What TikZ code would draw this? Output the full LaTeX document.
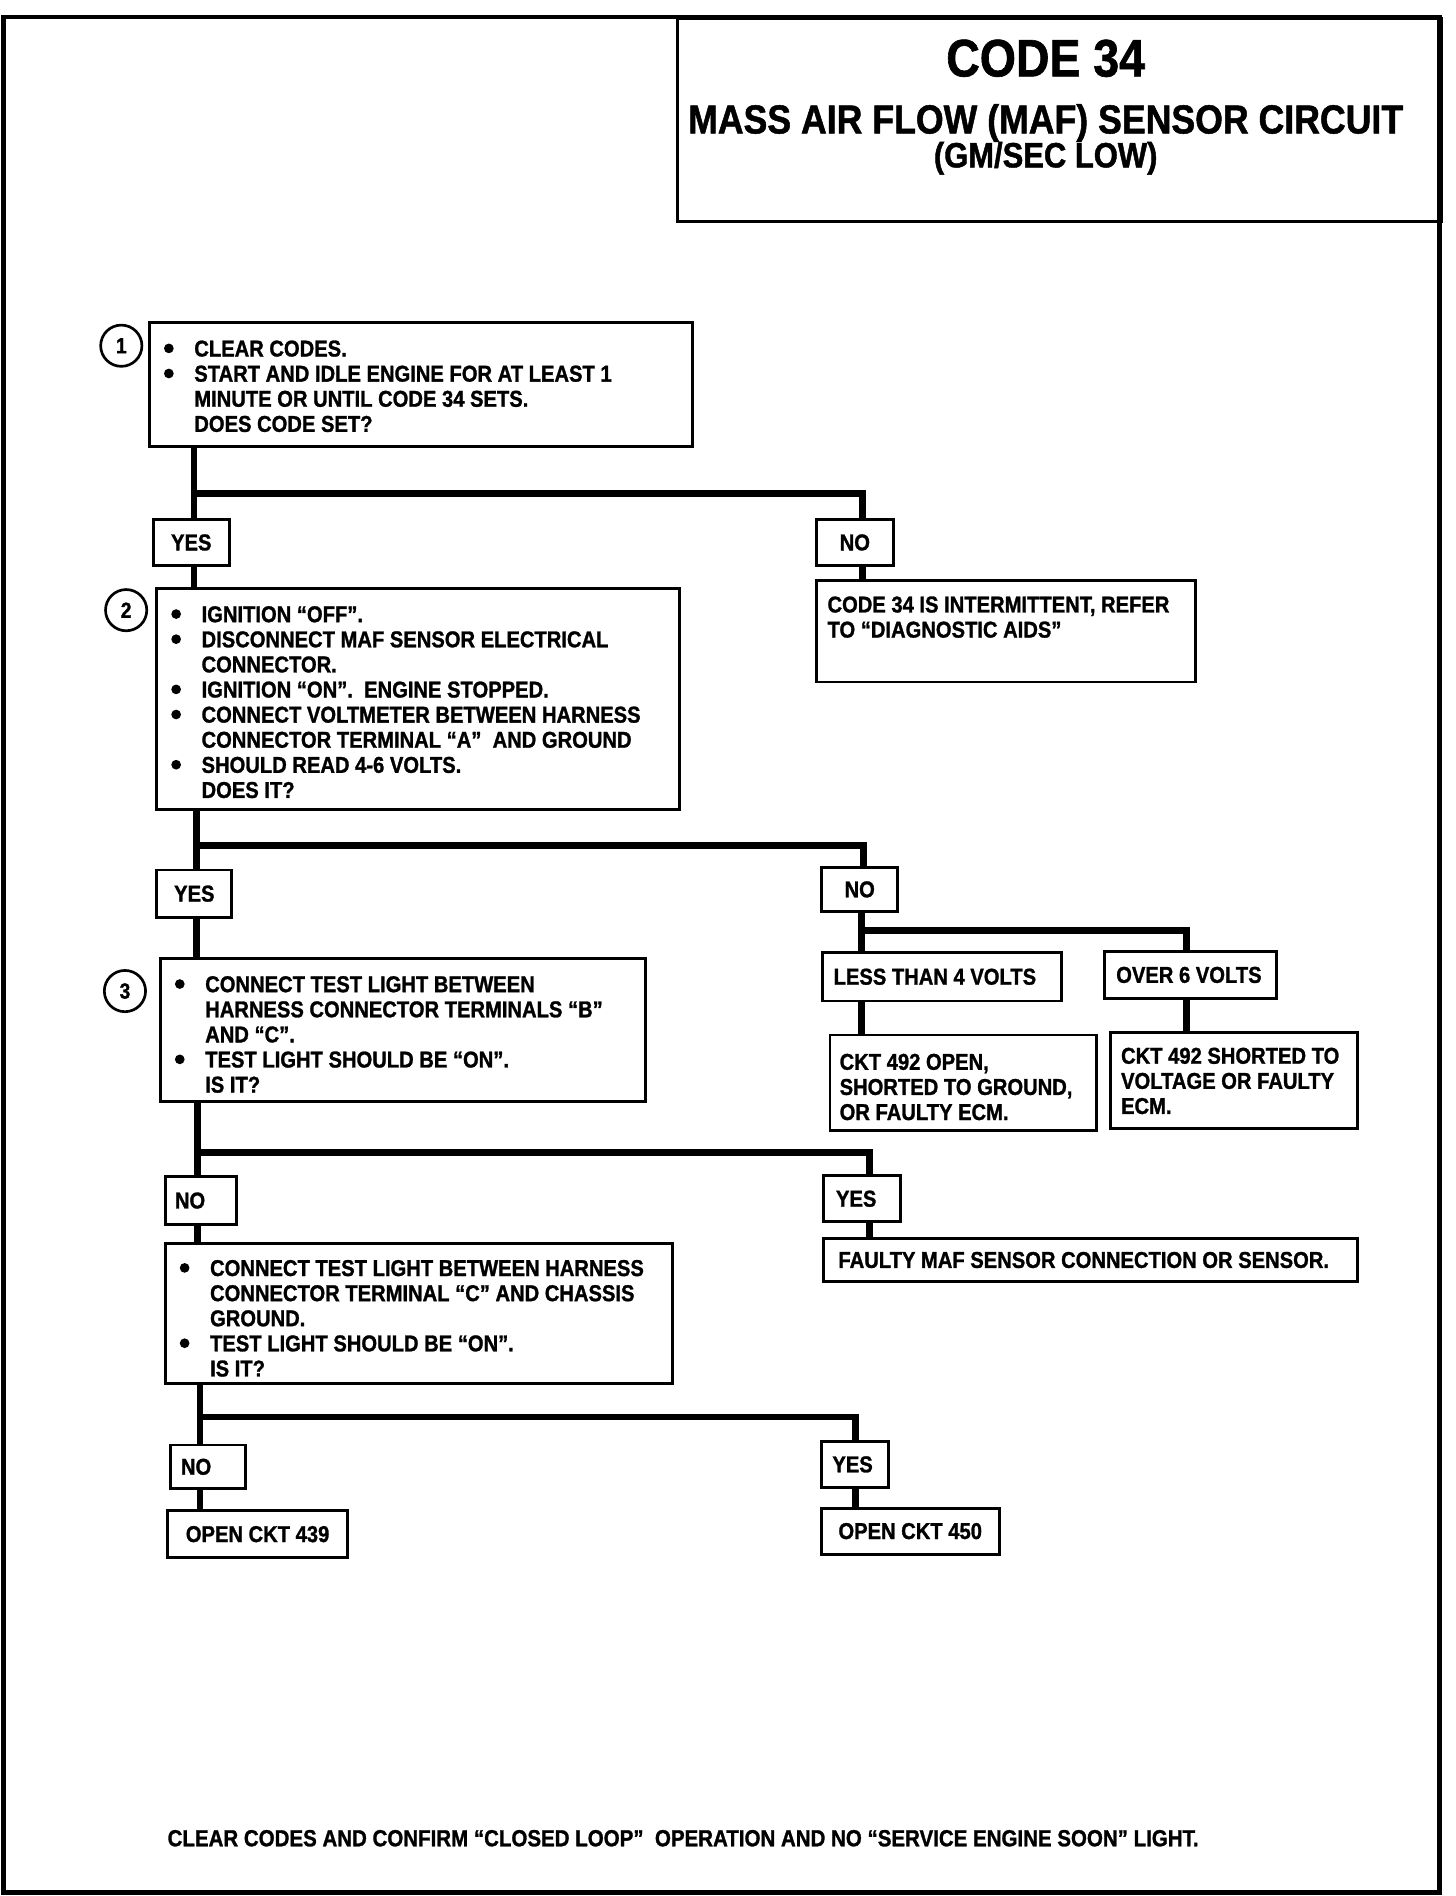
\documentclass[tikz,border=0pt]{standalone}
\usepackage{fontspec}
\setmainfont{Liberation Sans}[FakeStretch=0.88, BoldFeatures={FakeBold=1.2}]
\newcommand\bul{\makebox[26pt][l]{\hspace*{1pt}\tikz[baseline={(0pt,-6.7pt)}]\fill[black] (0pt,0pt) circle[radius=4pt];}}
\newcommand\ind{\hspace*{26pt}}
\newcommand\bx[5]{\parbox[c][#2pt][t]{#1pt}{\parindent=0pt\leftskip=#4pt\relax\rightskip=-150pt plus 1fil\relax\parfillskip=0pt plus 1fil\relax\vspace*{#3pt}\rule{0pt}{14.5pt}#5}}
\newcommand\sx[4]{\parbox[c][#2pt][c]{#1pt}{\parindent=0pt\leftskip=#3pt\relax\rightskip=-150pt plus 1fil\relax\parfillskip=0pt plus 1fil\relax #4}}
\newcommand\cx[3]{\parbox[c][#2pt][c]{#1pt}{\centering #3}}
\tikzset{
  bxs/.style={draw, line width=2.4pt, inner sep=0pt, anchor=north west, font=\bfseries\fontsize{18.9}{20.7}\selectfont},
  conn/.style={line width=5.5pt, line join=miter},
  num/.style={circle, draw, line width=2.2pt, minimum size=34pt, inner sep=0pt, font=\bfseries\fontsize{18}{18}\selectfont},
  ttl/.style={anchor=base, inner sep=0pt, font=\bfseries\fontsize{#1}{#1}\selectfont},
  outerframe/.style={line width=4pt},
  tbox/.style={draw, line width=2.5pt, anchor=north west, inner sep=0pt}
}
\begin{document}
\begin{tikzpicture}[x=1pt,y=-1pt]
\fill[white] (0,0) rectangle (1200,1563);
\useasboundingbox (0,0) rectangle (1200,1563);
\draw[outerframe] (3,14) rectangle (1187,1560);
% title
\node[tbox, minimum width=630pt, minimum height=167pt] (title) at (557,14) {};
\node[ttl=43.5] (t1) at (862,63) {CODE 34};
\node[ttl=33.4] (t2) at (862,110) {MASS AIR FLOW (MAF) SENSOR CIRCUIT};
\node[ttl=29] (t3) at (862,138) {(GM/SEC LOW)};
% step 1
\node[num] (c1) at (100,285) {1};
\node[bxs] (b1) at (122,265) {\bx{448}{102}{13.2}{11}{\bul CLEAR CODES.\\\bul START AND IDLE ENGINE FOR AT LEAST 1\\\ind MINUTE OR UNTIL CODE 34 SETS.\\\ind DOES CODE SET?}};
\node[bxs] (yes1) at (125,427) {\cx{63}{38}{YES}};
\node[bxs] (no1) at (672,427) {\cx{63}{38}{NO}};
\node[bxs] (nres) at (672,477) {\bx{312}{84}{12.2}{9}{CODE 34 IS INTERMITTENT, REFER\\TO “DIAGNOSTIC AIDS”}};
% step 2
\node[num] (c2) at (104,503) {2};
\node[bxs] (b2) at (128,484) {\bx{431}{182}{13.2}{11}{\bul IGNITION “OFF”.\\\bul DISCONNECT MAF SENSOR ELECTRICAL\\\ind CONNECTOR.\\\bul IGNITION “ON”.\ \ ENGINE STOPPED.\\\bul CONNECT VOLTMETER BETWEEN HARNESS\\\ind CONNECTOR TERMINAL “A”\ \ AND GROUND\\\bul SHOULD READ 4-6 VOLTS.\\\ind DOES IT?}};
\node[bxs] (yes2) at (128,716) {\cx{62}{39}{YES}};
\node[bxs] (no2) at (676,714) {\cx{63}{36}{NO}};
\node[bxs] (less) at (677,784) {\sx{197}{40}{9}{LESS THAN 4 VOLTS}};
\node[bxs] (over) at (909,783) {\sx{142}{39}{10}{OVER 6 VOLTS}};
\node[bxs] (cktopen) at (683,852) {\bx{220}{79}{14.2}{8}{CKT 492 OPEN,\\SHORTED TO GROUND,\\OR FAULTY ECM.}};
\node[bxs] (cktshort) at (914,850) {\bx{204}{79}{11.2}{9}{CKT 492 SHORTED TO\\VOLTAGE OR FAULTY\\ECM.}};
% step 3
\node[num] (c3) at (103,817) {3};
\node[bxs] (b3) at (131,789) {\bx{400}{118}{13.2}{11}{\bul CONNECT TEST LIGHT BETWEEN\\\ind HARNESS CONNECTOR TERMINALS “B”\\\ind AND “C”.\\\bul TEST LIGHT SHOULD BE “ON”.\\\ind IS IT?}};
\node[bxs] (no3) at (135,969) {\sx{59}{39}{8}{NO}};
\node[bxs] (yes3) at (678,968) {\sx{63}{38}{10}{YES}};
\node[bxs] (faulty) at (678,1020) {\sx{440}{35}{12}{FAULTY MAF SENSOR CONNECTION OR SENSOR.}};
% step 4
\node[bxs] (b4) at (135,1024) {\bx{418}{115}{12.2}{11}{\bul CONNECT TEST LIGHT BETWEEN HARNESS\\\ind CONNECTOR TERMINAL “C” AND CHASSIS\\\ind GROUND.\\\bul TEST LIGHT SHOULD BE “ON”.\\\ind IS IT?}};
\node[bxs] (no4) at (139,1190) {\sx{62}{36}{9}{NO}};
\node[bxs] (yes4) at (676,1187) {\sx{55}{38}{9}{YES}};
\node[bxs] (o439) at (137,1244) {\sx{148}{39}{15}{OPEN CKT 439}};
\node[bxs] (o450) at (676,1242) {\sx{147}{38}{14}{OPEN CKT 450}};
% footer
\node[ttl=19.2, anchor=base west] (foot) at (138,1522) {CLEAR CODES AND CONFIRM “CLOSED LOOP”\ \ OPERATION AND NO “SERVICE ENGINE SOON” LIGHT.};
% connectors
\coordinate (j1) at (160,407);
\coordinate (k1) at (711,407);
\draw[conn] (j1 |- b1.south) -- (j1 |- yes1.north);
\draw[conn] (j1 |- yes1.south) -- (j1 |- b2.north);
\draw[conn] (j1) -- (k1) -- (k1 |- no1.north);
\draw[conn] (k1 |- no1.south) -- (k1 |- nres.north);
\coordinate (j2) at (162,697);
\coordinate (k2) at (712,697);
\draw[conn] (j2 |- b2.south) -- (j2 |- yes2.north);
\draw[conn] (j2 |- yes2.south) -- (j2 |- b3.north);
\draw[conn] (j2) -- (k2) -- (k2 |- no2.north);
\coordinate (j2b) at (710,767);
\coordinate (k2b) at (978,767);
\draw[conn] (j2b |- no2.south) -- (j2b |- less.north);
\draw[conn] (j2b) -- (k2b) -- (k2b |- over.north);
\draw[conn] (j2b |- less.south) -- (j2b |- cktopen.north);
\draw[conn] (k2b |- over.south) -- (k2b |- cktshort.north);
\coordinate (j3) at (163,950);
\coordinate (k3) at (717,950);
\draw[conn] (j3 |- b3.south) -- (j3 |- no3.north);
\draw[conn] (j3 |- no3.south) -- (j3 |- b4.north);
\draw[conn] (j3) -- (k3) -- (k3 |- yes3.north);
\draw[conn] (k3 |- yes3.south) -- (k3 |- faulty.north);
\coordinate (j4) at (165,1168);
\coordinate (k4) at (705,1168);
\draw[conn] (j4 |- b4.south) -- (j4 |- no4.north);
\draw[conn] (j4 |- no4.south) -- (j4 |- o439.north);
\draw[conn] (j4) -- (k4) -- (k4 |- yes4.north);
\draw[conn] (k4 |- yes4.south) -- (k4 |- o450.north);
\end{tikzpicture}
\end{document}
